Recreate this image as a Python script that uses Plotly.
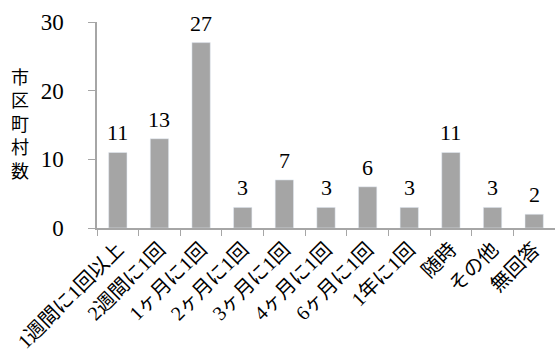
import plotly.graph_objects as go

categories = ["1週間に1回以上", "2週間に1回", "1ヶ月に1回", "2ヶ月に1回", "3ヶ月に1回",
              "4ヶ月に1回", "6ヶ月に1回", "1年に1回", "随時", "その他", "無回答"]
values = [11, 13, 27, 3, 7, 3, 6, 3, 11, 3, 2]
y_ticks = [0, 10, 20, 30]
y_title = "市区町村数"

font_family = "'Liberation Serif', 'Noto Sans CJK JP', serif"

fig = go.Figure(go.Bar(
    x=categories, y=values,
    marker=dict(color="#a5a5a5"),
    cliponaxis=False,
))

annotations = [dict(
    x=c, y=v, xref="x", yref="y", text=str(v), showarrow=False,
    yanchor="bottom", yshift=5,
    font=dict(size=22, color="black", family=font_family),
) for c, v in zip(categories, values)]

annotations.append(dict(
    text="<br>".join(list(y_title)), x=-0.168, y=0.5, xref="x domain", yref="y domain",
    xanchor="center", yanchor="middle",
    showarrow=False, font=dict(size=18, family=font_family, color="black"),
))

fig.update_layout(
    width=555, height=360,
    margin=dict(l=97, r=0, t=22, b=132),
    paper_bgcolor="white", plot_bgcolor="white",
    bargap=0.56,
    showlegend=False,
    font=dict(family=font_family, color="black"),
    xaxis=dict(
        type="category", showline=True, linecolor="#a6a6a6", linewidth=1.5,
        ticks="outside", tickson="boundaries", ticklen=6, tickcolor="#a6a6a6",
        tickangle=-45, tickfont=dict(size=20, family=font_family, color="black"),
        showgrid=False,
    ),
    yaxis=dict(
        range=[0, 30], tickvals=y_ticks, showline=True, linecolor="#a6a6a6", linewidth=1.5,
        ticks="outside", ticklen=7, tickcolor="#a6a6a6", ticklabelstandoff=20,
        tickfont=dict(size=23, family=font_family, color="black"), showgrid=False, zeroline=False,
    ),
    annotations=annotations,
)

fig.write_html("out.html")
